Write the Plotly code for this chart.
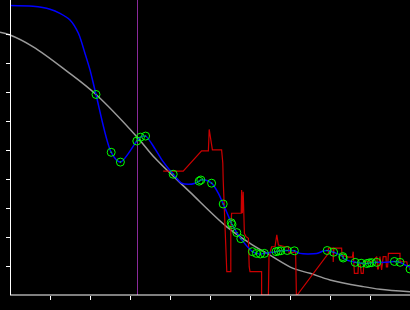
import plotly.graph_objects as go

# ---- data ----
gray_x = [-0.25, 0.0, 0.58, 1.42, 2.15, 3.17, 3.63, 4.5, 5.42, 6.0, 6.5, 7.08, 7.5, 8.0, 8.83, 9.25, 10.0]
gray_y = [9.09, 9.00, 8.59, 7.75, 6.94, 5.48, 4.73, 3.56, 2.36, 1.79, 1.38, 0.92, 0.75, 0.52, 0.29, 0.20, 0.11]

blue_x = [0.0, 0.575, 1.0, 1.25, 1.5, 1.71, 1.875, 2.0, 2.15, 2.53, 2.76, 3.17, 3.26, 3.39, 3.63, 3.80,
          4.08, 4.29, 4.46, 4.63, 4.73, 4.77, 4.88, 5.04, 5.21, 5.33, 5.53, 5.55, 5.67, 5.77, 6.06, 6.16,
          6.26, 6.36, 6.65, 6.71, 6.77, 6.93, 7.11, 7.25, 7.67, 7.83, 7.93, 8.09, 8.32, 8.33, 8.46, 8.63,
          8.78, 8.92, 8.98, 9.04, 9.17, 9.375, 9.61, 9.75, 9.875, 10.0]
blue_y = [10.02, 9.99, 9.89, 9.75, 9.52, 9.06, 8.36, 7.79, 6.94, 4.94, 4.60, 5.33, 5.46, 5.50, 5.05, 4.67,
          4.18, 3.87, 3.83, 3.87, 3.94, 3.98, 3.98, 3.87, 3.52, 3.15, 2.50, 2.44, 2.16, 1.95, 1.50, 1.44,
          1.42, 1.44, 1.50, 1.52, 1.53, 1.54, 1.53, 1.44, 1.44, 1.52, 1.54, 1.48, 1.33, 1.28, 1.19, 1.13,
          1.10, 1.09, 1.11, 1.12, 1.13, 1.13, 1.16, 1.13, 1.04, 0.97]

marker_x = [2.15, 2.53, 2.76, 3.17, 3.26, 3.39, 4.08, 4.73, 4.77, 5.04, 5.33, 5.53, 5.55, 5.67, 5.77,
            6.06, 6.16, 6.26, 6.36, 6.65, 6.71, 6.77, 6.93, 7.11, 7.93, 8.09, 8.32, 8.33, 8.63, 8.78,
            8.92, 8.98, 9.04, 9.17, 9.61, 9.75, 10.0]
marker_y = [6.94, 4.94, 4.60, 5.33, 5.46, 5.50, 4.18, 3.94, 3.98, 3.87, 3.15, 2.50, 2.44, 2.16, 1.95,
            1.50, 1.44, 1.42, 1.44, 1.50, 1.52, 1.53, 1.54, 1.53, 1.54, 1.48, 1.33, 1.28, 1.13, 1.10,
            1.09, 1.11, 1.12, 1.13, 1.16, 1.13, 0.90]

red_x = [3.83, 4.33, 4.79, 4.96, 4.98, 5.02, 5.06, 5.29, 5.32, 5.33, 5.36, 5.39, 5.42, 5.52, 5.52, 5.54,
         5.78, 5.79, 5.81, 5.83, 5.85, 5.86, 5.90, 5.96, 5.98, 6.0, 6.29, 6.29, 6.46, 6.475, 6.54, 6.625,
         6.67, 6.71, 6.875, 6.96, 6.98, 7.14, 7.16, 7.18, 7.96, 7.96, 8.08, 8.08, 8.10, 8.29, 8.30, 8.46,
         8.56, 8.58, 8.61, 8.70, 8.71, 8.76, 8.78, 8.83, 8.85, 9.05, 9.17, 9.19, 9.21, 9.25, 9.29, 9.33,
         9.40, 9.41, 9.44, 9.46, 9.75, 9.75, 9.92, 9.94, 10.0]
red_y = [4.29, 4.29, 4.99, 4.99, 5.73, 5.36, 5.02, 5.02, 4.57, 3.98, 2.94, 2.08, 0.81, 0.81, 2.25, 2.83,
         2.83, 3.63, 2.83, 3.57, 2.83, 2.13, 2.02, 1.96, 0.98, 0.81, 0.81, 0.0, 0.0, 1.33, 1.67, 1.67,
         2.08, 1.73, 1.67, 1.67, 1.44, 1.50, 0.0, 0.0, 1.44, 1.62, 1.62, 1.14, 1.62, 1.62, 1.38, 1.31,
         1.31, 1.50, 0.75, 0.75, 1.04, 1.04, 0.75, 0.75, 1.15, 1.15, 1.33, 0.90, 0.90, 1.33, 0.87, 1.33,
         1.33, 0.97, 0.97, 1.44, 1.44, 1.15, 1.15, 0.98, 0.98]

vline_x = 3.1875
x_ticks = [1, 2, 3, 4, 5, 6, 7, 8, 9]
y_ticks = [1, 2, 3, 4, 5, 6, 7, 8, 9]
x_range = [-0.25, 10.0]
y_range = [0, 10.21]

fig = go.Figure()
fig.add_trace(go.Scatter(x=gray_x, y=gray_y, mode="lines",
                         line=dict(color="#9a9a9a", width=1.5, shape="spline"), hoverinfo="skip"))
fig.add_trace(go.Scatter(x=red_x, y=red_y, mode="lines",
                         line=dict(color="#cc0000", width=1.2), hoverinfo="skip"))
fig.add_trace(go.Scatter(x=blue_x, y=blue_y, mode="lines",
                         line=dict(color="#0000ff", width=1.5, shape="spline", smoothing=0.8), hoverinfo="skip"))
fig.add_trace(go.Scatter(x=marker_x, y=marker_y, mode="markers",
                         marker=dict(symbol="circle-open-dot", size=8, color="#00ff00",
                                     line=dict(width=1, color="#00ff00")), hoverinfo="skip"))

fig.add_shape(type="line", xref="x", yref="paper", x0=vline_x, x1=vline_x, y0=0, y1=1,
              line=dict(color="#8a2a9a", width=1), layer="below")
# bottom axis line (starts at the y axis)
fig.add_shape(type="line", xref="paper", yref="paper", x0=10 / 410, x1=1, y0=0, y1=0,
              line=dict(color="white", width=1))

fig.update_layout(
    width=410, height=310,
    margin=dict(l=0, r=0, t=0, b=15),
    paper_bgcolor="black", plot_bgcolor="black",
    showlegend=False,
    xaxis=dict(range=x_range, tickvals=x_ticks, ticks="outside", ticklen=4, tickwidth=1,
               tickcolor="white", showticklabels=False, showgrid=False, zeroline=False,
               showline=False, fixedrange=True),
    yaxis=dict(range=y_range, tickvals=y_ticks, ticks="outside", ticklen=4, tickwidth=1,
               tickcolor="white", showticklabels=False, showgrid=False, zeroline=False,
               showline=True, linecolor="white", linewidth=1,
               anchor="free", position=10 / 410, fixedrange=True),
)

fig.write_html("out.html", config={"displayModeBar": False})
